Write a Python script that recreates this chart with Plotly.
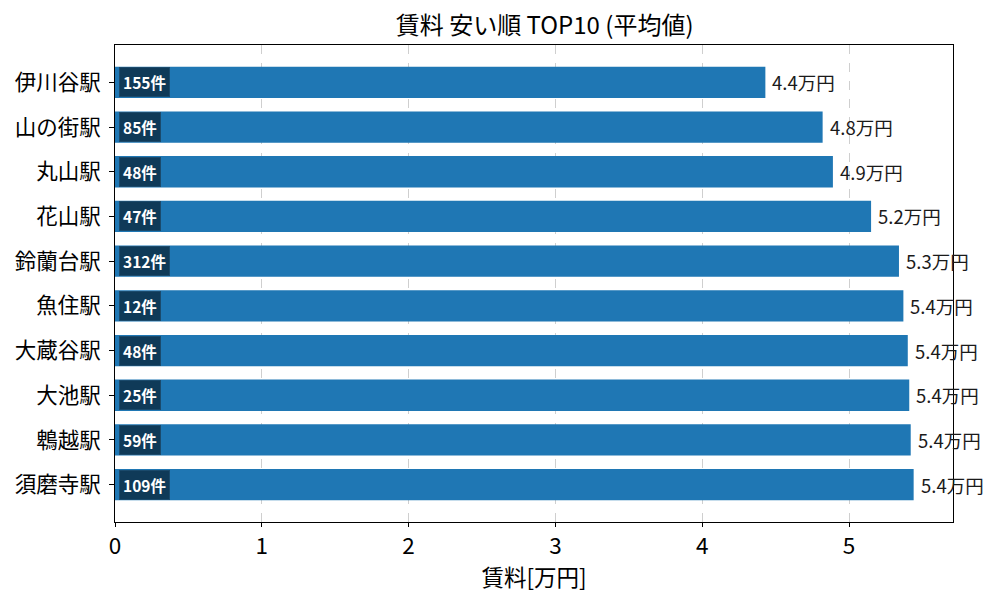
import plotly.graph_objects as go

stations = ["伊川谷駅", "山の街駅", "丸山駅", "花山駅", "鈴蘭台駅",
            "魚住駅", "大蔵谷駅", "大池駅", "鵯越駅", "須磨寺駅"]
rent = [4.43, 4.82, 4.89, 5.15, 5.34, 5.37, 5.40, 5.41, 5.42, 5.44]
counts = [155, 85, 48, 47, 312, 12, 48, 25, 59, 109]
rent_labels = ["4.4万円", "4.8万円", "4.9万円", "5.2万円", "5.3万円",
               "5.4万円", "5.4万円", "5.4万円", "5.4万円", "5.4万円"]

FONT = "Noto Sans CJK JP"

fig = go.Figure()
fig.add_trace(go.Bar(x=rent, y=stations, orientation="h", width=0.7,
                     marker=dict(color="#1f77b4", line=dict(width=0)),
                     hoverinfo="x+y"))

# count badges inside the bars and rent labels past the bar ends
for st, c, v, lab in zip(stations, counts, rent, rent_labels):
    fig.add_annotation(x=0, y=st, text=f"<b>{c}件</b>", showarrow=False,
                       xanchor="left", xshift=4,
                       font=dict(family=FONT, size=15.5, color="white"),
                       bgcolor="#0f3a58", bordercolor="#1a4a6c", borderwidth=1,
                       borderpad=3)
    fig.add_annotation(x=v, y=st, text=lab, showarrow=False,
                       xanchor="left", xshift=5,
                       font=dict(family=FONT, size=18.5, color="#1a1a1a"))

# page body has an 8px margin, so the figure is 8px smaller than the window
fig.update_layout(
    width=992, height=592,
    margin=dict(l=107, r=47, t=37, b=78, autoexpand=False),
    plot_bgcolor="white", paper_bgcolor="white",
    font=dict(family=FONT, color="black"),
    title=dict(text="賃料 安い順 TOP10 (平均値)", x=0.541, xanchor="center",
               y=0.970, yanchor="middle", font=dict(size=24, color="black")),
    showlegend=False,
    bargap=0.3,
)
fig.update_xaxes(range=[0, 5.708], tickvals=[0, 1, 2, 3, 4, 5],
                 ticks="outside", ticklen=4, tickcolor="black",
                 tickfont=dict(size=22.5), automargin=False,
                 showgrid=True, gridcolor="#cfcfcf", griddash="dash",
                 showline=True, linecolor="black", mirror=True, zeroline=False,
                 title=dict(text="賃料[万円]", font=dict(size=22.5), standoff=0))
fig.update_yaxes(range=[9.835, -0.835], ticks="outside", ticklen=5,
                 tickcolor="black", tickfont=dict(size=21.5), automargin=False,
                 showline=True, linecolor="black", mirror=True,
                 showgrid=False, ticklabelstandoff=4)

fig.write_html("out.html")
